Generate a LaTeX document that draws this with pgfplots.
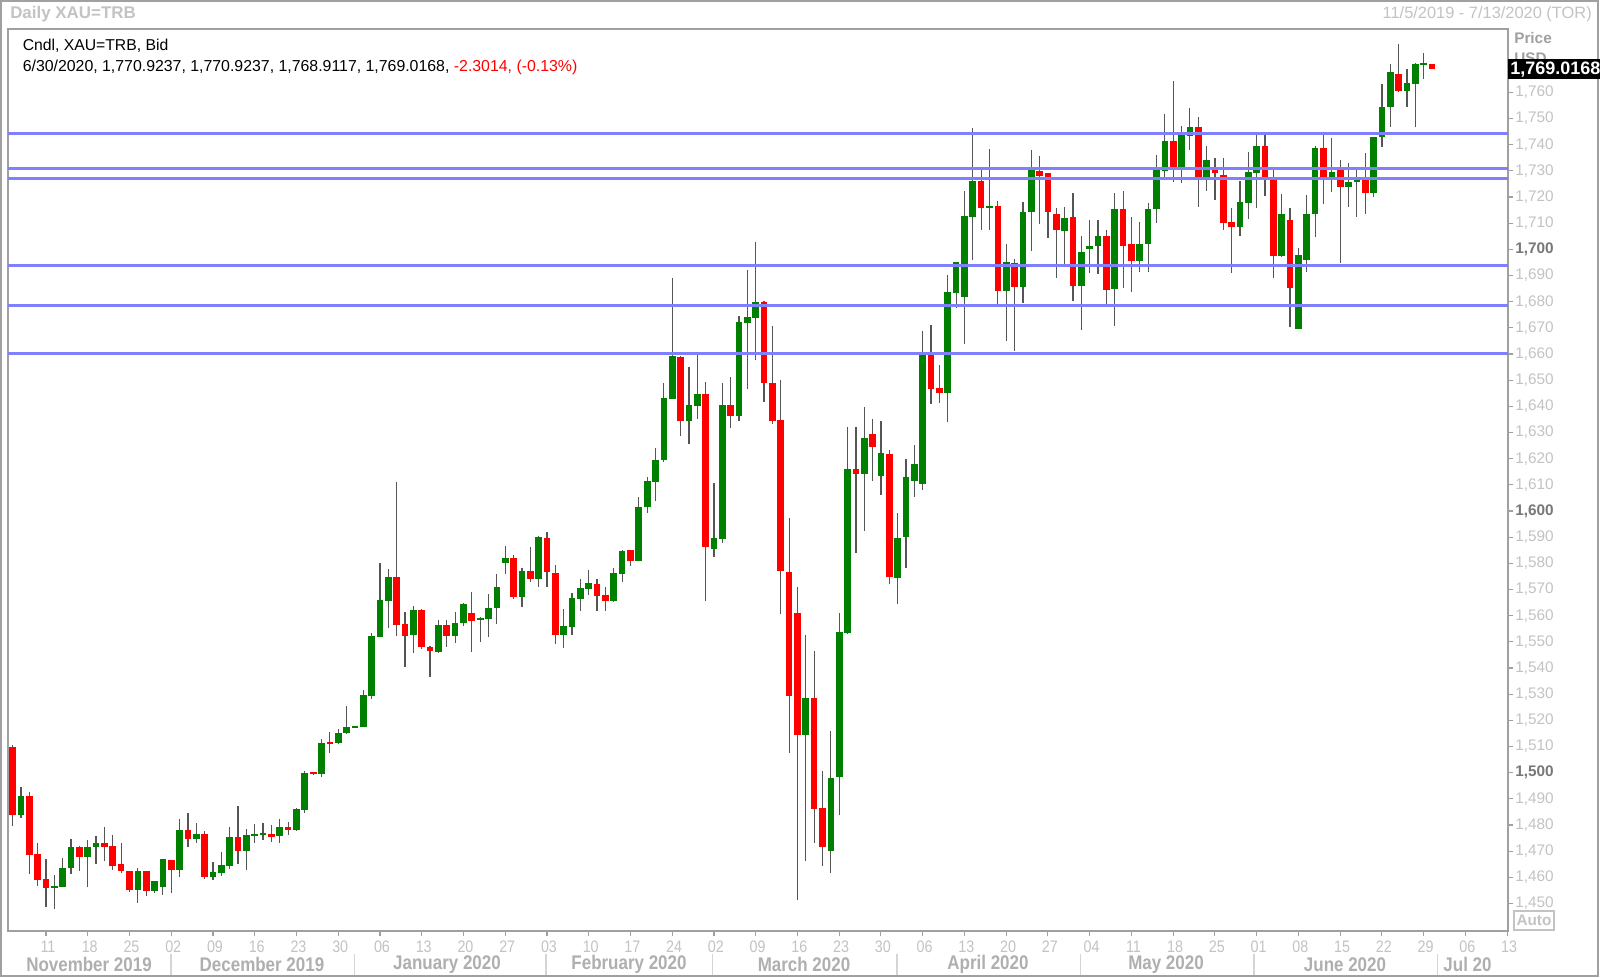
\documentclass[border=0pt]{standalone}
\usepackage{fontspec}
\setmainfont{Liberation Sans}
\newfontfamily\narrowfont[FakeStretch=0.86]{Liberation Sans}
\usepackage{pgfplots}
\usepackage{pgfplotstable}
\pgfplotsset{compat=1.18}

\definecolor{upgreen}{RGB}{0,128,0}
\definecolor{downred}{RGB}{255,0,0}
\definecolor{wick}{RGB}{85,85,85}
\definecolor{srline}{RGB}{128,128,255}
\definecolor{lightlab}{RGB}{195,195,195}
\definecolor{boldgray}{RGB}{120,120,120}
\definecolor{framegray}{RGB}{160,160,160}

% daily candles, i = trading day (0 = Mon 11 Nov 2019)
\pgfplotstableread{
i o h l c
-4 1509.9 1510.6 1479.6 1483.8
-3 1483.8 1494.4 1482.8 1491.1
-2 1491.1 1492.6 1461.3 1468.6
-1 1468.9 1473.3 1456.7 1459.0
0 1459.3 1467.0 1448.6 1455.8
1 1456.1 1460.9 1447.8 1456.8
2 1456.5 1467.5 1456.4 1463.7
3 1463.5 1474.7 1461.3 1471.5
4 1471.7 1471.8 1462.6 1467.9
5 1467.9 1474.3 1456.4 1471.7
6 1471.5 1475.8 1465.1 1473.0
7 1473.0 1479.1 1466.4 1471.7
8 1472.1 1476.2 1462.8 1464.5
9 1465.0 1473.3 1461.8 1462.4
10 1462.4 1462.4 1454.5 1455.2
11 1455.2 1463.5 1450.3 1462.4
12 1462.4 1462.4 1452.9 1454.8
13 1454.8 1458.6 1454.2 1458.6
14 1456.5 1467.0 1453.3 1467.0
15 1466.6 1466.6 1454.2 1462.8
16 1462.8 1482.3 1460.3 1478.1
17 1478.1 1484.5 1471.7 1474.5
18 1474.5 1480.9 1473.3 1476.5
19 1476.5 1477.7 1459.2 1460.3
20 1460.0 1466.0 1459.0 1462.2
21 1461.8 1469.6 1460.5 1464.7
22 1464.3 1479.1 1463.1 1475.3
23 1475.3 1487.4 1465.1 1470.1
24 1470.1 1478.4 1462.8 1476.2
25 1476.0 1480.3 1473.3 1476.6
26 1476.3 1480.9 1474.3 1476.9
27 1476.5 1480.0 1473.5 1475.6
28 1475.8 1482.2 1473.0 1479.4
29 1479.4 1481.3 1476.2 1478.1
30 1478.1 1486.4 1477.9 1486.0
31 1485.8 1500.8 1484.7 1499.8
32 1500.1 1500.3 1499.3 1499.5
33 1499.5 1512.8 1498.2 1511.5
34 1511.6 1515.7 1507.4 1511.0
35 1511.2 1516.6 1511.0 1515.3
36 1515.1 1525.6 1514.8 1517.6
37 1517.3 1517.9 1517.2 1517.9
38 1517.3 1531.6 1517.3 1529.7
39 1529.3 1553.5 1528.0 1552.2
40 1552.0 1580.3 1552.0 1566.0
41 1565.7 1577.7 1555.2 1574.7
42 1574.7 1611.2 1552.2 1556.4
43 1556.8 1561.5 1540.3 1552.4
44 1552.6 1563.7 1545.6 1562.2
45 1562.2 1562.4 1547.2 1547.9
46 1548.2 1548.4 1536.5 1546.5
47 1546.3 1558.3 1545.9 1556.4
48 1556.4 1558.3 1548.2 1552.2
49 1552.2 1561.3 1549.4 1557.3
50 1557.1 1564.7 1556.2 1564.5
51 1560.9 1568.9 1546.2 1558.1
52 1558.3 1559.6 1550.1 1559.2
53 1558.7 1568.3 1552.0 1563.1
54 1562.8 1575.9 1556.7 1571.1
55 1580.3 1586.7 1575.9 1581.9
56 1581.9 1583.2 1566.4 1567.0
57 1567.0 1578.1 1563.2 1577.1
58 1577.1 1586.1 1572.7 1574.0
59 1574.0 1590.4 1570.8 1589.9
60 1589.6 1591.8 1571.1 1576.8
61 1576.4 1579.4 1549.0 1552.6
62 1552.6 1562.4 1547.5 1556.2
63 1555.8 1568.5 1552.6 1566.6
64 1566.4 1574.0 1561.9 1570.4
65 1570.1 1577.5 1567.9 1572.6
66 1572.1 1573.9 1561.9 1567.5
67 1567.9 1570.8 1561.9 1565.7
68 1565.7 1578.1 1565.4 1576.2
69 1575.9 1585.1 1573.0 1584.7
70 1585.1 1585.1 1579.0 1580.9
71 1581.0 1605.5 1581.0 1601.7
72 1601.4 1613.1 1599.4 1611.5
73 1611.2 1623.9 1604.0 1619.5
74 1619.5 1649.0 1618.9 1643.1
75 1642.8 1688.9 1642.8 1659.2
76 1659.0 1659.2 1628.7 1634.5
77 1634.5 1654.9 1625.5 1640.5
78 1640.3 1659.6 1635.2 1644.7
79 1644.7 1649.2 1565.7 1586.1
80 1585.5 1610.8 1582.6 1589.6
81 1589.3 1649.0 1587.6 1640.5
82 1640.5 1651.3 1631.6 1636.4
83 1636.4 1674.5 1634.5 1672.4
84 1672.0 1692.1 1646.5 1674.3
85 1673.9 1702.9 1657.7 1680.0
86 1680.0 1680.4 1641.8 1649.0
87 1649.0 1670.7 1633.2 1634.5
88 1634.6 1650.1 1560.8 1577.1
89 1576.7 1597.5 1507.7 1529.2
90 1561.1 1571.0 1451.5 1514.3
91 1514.3 1552.7 1466.2 1528.6
92 1528.6 1546.4 1473.2 1486.1
93 1486.4 1500.6 1464.4 1471.6
94 1469.9 1516.0 1461.8 1498.0
95 1498.3 1561.1 1484.0 1553.6
96 1553.2 1632.0 1552.9 1616.2
97 1616.2 1632.0 1583.9 1614.2
98 1614.2 1639.9 1592.5 1628.0
99 1629.4 1635.3 1611.3 1624.4
100 1613.3 1634.4 1606.0 1622.1
101 1621.7 1623.4 1572.0 1574.9
102 1574.4 1599.1 1564.4 1589.8
103 1590.1 1619.9 1578.4 1612.9
104 1611.6 1625.4 1605.4 1617.8
105 1610.3 1668.8 1608.0 1659.6
106 1659.6 1671.1 1640.8 1646.6
107 1646.9 1655.8 1641.4 1645.2
108 1645.2 1690.2 1634.1 1683.6
109 1683.4 1695.0 1677.4 1695.0
110 1681.9 1722.3 1663.7 1712.7
111 1712.5 1746.2 1695.9 1726.1
112 1726.1 1730.3 1707.4 1715.7
113 1715.7 1738.2 1707.4 1716.5
114 1716.5 1718.6 1679.3 1684.1
115 1684.1 1702.0 1665.1 1695.0
116 1694.6 1696.5 1661.1 1685.5
117 1685.5 1718.2 1679.3 1714.1
118 1714.1 1737.9 1699.4 1730.3
119 1729.9 1735.6 1709.5 1728.1
120 1729.0 1729.0 1704.2 1714.4
121 1713.4 1715.7 1689.2 1707.4
122 1707.0 1716.3 1694.4 1712.1
123 1712.2 1721.4 1680.4 1686.0
124 1686.0 1705.1 1669.2 1699.1
125 1700.1 1711.2 1690.8 1701.2
126 1701.2 1711.2 1690.6 1705.2
127 1705.1 1707.4 1679.3 1684.4
128 1684.7 1721.4 1670.7 1715.3
129 1715.3 1722.3 1685.3 1701.3
130 1702.0 1712.5 1683.6 1695.7
131 1695.7 1710.6 1691.2 1702.0
132 1702.0 1717.6 1691.2 1715.4
133 1715.4 1736.0 1709.9 1730.3
134 1729.9 1751.6 1727.8 1741.4
135 1741.5 1764.3 1725.8 1731.6
136 1731.6 1747.2 1725.5 1743.7
137 1743.3 1753.9 1738.0 1746.9
138 1746.9 1750.4 1716.3 1727.8
139 1727.8 1739.6 1722.4 1734.1
140 1730.3 1735.1 1718.8 1729.3
141 1728.6 1735.1 1707.4 1710.2
142 1710.6 1715.7 1690.8 1708.7
143 1708.7 1726.2 1705.1 1718.0
144 1717.8 1737.1 1711.6 1729.7
145 1729.0 1743.7 1715.7 1739.6
146 1739.6 1743.7 1720.5 1727.8
147 1727.8 1730.3 1688.9 1697.4
148 1697.4 1721.0 1697.2 1713.7
149 1711.2 1715.9 1670.4 1685.1
150 1669.5 1700.6 1669.5 1697.8
151 1695.9 1720.7 1691.5 1713.7
152 1713.5 1739.6 1704.8 1738.6
153 1738.6 1743.7 1717.2 1727.8
154 1727.8 1742.7 1721.8 1729.7
155 1730.3 1734.1 1694.6 1723.9
156 1723.9 1732.9 1716.3 1725.8
157 1725.8 1730.3 1712.5 1726.4
158 1726.5 1736.7 1713.4 1721.4
159 1721.4 1743.0 1720.1 1743.0
160 1743.0 1763.0 1739.2 1754.5
161 1754.2 1770.7 1746.6 1767.6
162 1767.2 1778.5 1760.2 1760.5
163 1760.6 1768.8 1754.5 1763.4
164 1763.0 1771.3 1746.9 1770.7
165 1770.7 1775.1 1765.1 1771.2
166 1770.9237 1770.9237 1768.9117 1769.0168
}\gold

\begin{document}
\begin{tikzpicture}
% page = 1600 x 978 screen pixels, 1 px = 0.75pt, plot area corner at (0,0)
\useasboundingbox (-6pt,-35.25pt) rectangle (1194pt,698.25pt);
\fill[white] (-6pt,-35.25pt) rectangle (1194pt,698.25pt);

\begin{axis}[
  at={(0pt,0pt)}, anchor=south west,
  scale only axis, width=1125pt, height=676.5pt,
  xmin=-4.55, xmax=175.1, ymin=1439.5, ymax=1784.2,
  axis line style={draw=framegray, line width=1.2pt},
  tick align=outside, major tick length=4pt,
  xtick pos=bottom, ytick pos=right, yticklabel pos=right,
  tick style={draw=framegray, line width=0.8pt},
  xtick={0,5,...,175},
  xticklabels={11,18,25,02,09,16,23,30,06,13,20,27,03,10,17,24,02,09,16,23,30,06,13,20,27,04,11,18,25,01,08,15,22,29,06,13},
  xticklabel style={font=\narrowfont\fontsize{12.5}{14}\selectfont, text=lightlab, xshift=1.5pt},
  ytick={1450,1460,1470,1480,1490,1500,1510,1520,1530,1540,1550,1560,1570,1580,1590,1600,1610,1620,1630,1640,1650,1660,1670,1680,1690,1700,1710,1720,1730,1740,1750,1760},
  yticklabels={{1,450},{1,460},{1,470},{1,480},{1,490},{\bfseries\color{boldgray}1,500},{1,510},{1,520},{1,530},{1,540},{1,550},{1,560},{1,570},{1,580},{1,590},{\bfseries\color{boldgray}1,600},{1,610},{1,620},{1,630},{1,640},{1,650},{1,660},{1,670},{1,680},{1,690},{\bfseries\color{boldgray}1,700},{1,710},{1,720},{1,730},{1,740},{1,750},{1,760}},
  yticklabel style={font=\fontsize{11.5}{13}\selectfont, text=lightlab, xshift=-2pt},
  candle/.style={draw=none, mark=none, mark options={draw=none, fill=none}, forget plot},
]
% wicks
\addplot[candle,
  error bars/.cd, y dir=both, y explicit, error mark=none,
  error bar style={line width=0.9pt, draw=wick}]
  table[x=i, y expr={(\thisrow{h}+\thisrow{l})/2}, y error expr={(\thisrow{h}-\thisrow{l})/2}] {\gold};
% up bodies
\addplot[candle,
  restrict expr to domain={\thisrow{c}-\thisrow{o}}{0:1000},
  error bars/.cd, y dir=both, y explicit, error mark=none,
  error bar style={line width=5pt, draw=upgreen}]
  table[x=i, y expr={(\thisrow{o}+\thisrow{c})/2}, y error expr={abs(\thisrow{c}-\thisrow{o})/2}] {\gold};
% down bodies
\addplot[candle,
  restrict expr to domain={\thisrow{c}-\thisrow{o}}{-1000:0},
  error bars/.cd, y dir=both, y explicit, error mark=none,
  error bar style={line width=5pt, draw=downred}]
  table[x=i, y expr={(\thisrow{o}+\thisrow{c})/2}, y error expr={abs(\thisrow{c}-\thisrow{o})/2}] {\gold};
% support / resistance lines
\addplot[srline, line width=2.3pt, forget plot] coordinates {(-10,1744.4) (200,1744.4)};
\addplot[srline, line width=2.3pt, forget plot] coordinates {(-10,1731.0) (200,1731.0)};
\addplot[srline, line width=2.3pt, forget plot] coordinates {(-10,1726.9) (200,1726.9)};
\addplot[srline, line width=2.3pt, forget plot] coordinates {(-10,1693.9) (200,1693.9)};
\addplot[srline, line width=2.3pt, forget plot] coordinates {(-10,1678.5) (200,1678.5)};
\addplot[srline, line width=2.3pt, forget plot] coordinates {(-10,1660.3) (200,1660.3)};
\end{axis}

\begin{scope}[x=0.75pt,y=-0.75pt,shift={(-6pt,698.25pt)}]
% outer frame
\draw[framegray, line width=1.2pt] (1,1) rectangle (1598,976);
% header
\node[anchor=west, inner sep=0, text=lightlab, font=\bfseries\fontsize{12.7}{14}\selectfont] at (10,14.5) {Daily XAU=TRB};
\node[anchor=east, inner sep=0, text=lightlab, font=\fontsize{12.3}{14}\selectfont] at (1592,14.5) {11/5/2019 - 7/13/2020 (TOR)};
% legend text inside plot
\node[anchor=west, inner sep=0, font=\fontsize{11.8}{13}\selectfont] at (22.5,46) {Cndl, XAU=TRB, Bid};
\node[anchor=west, inner sep=0, font=\fontsize{11.9}{13}\selectfont] at (22.5,67.5) {6/30/2020, 1,770.9237, 1,770.9237, 1,768.9117, 1,769.0168, \textcolor{downred}{-2.3014, (-0.13\%)}};
% right axis header
\node[anchor=west, inner sep=0, text=framegray, font=\bfseries\fontsize{11.5}{13}\selectfont] at (1514,38) {Price};
\begin{scope}
\clip (1510,45) rectangle (1600,59.3);
\node[anchor=west, inner sep=0, text=framegray, font=\bfseries\fontsize{11.5}{13}\selectfont] at (1514,58) {USD};
\end{scope}
\fill[black] (1508,59.3) rectangle (1600,79.3);
\begin{scope}
\clip (1508,59.3) rectangle (1600,79.3);
\node[anchor=west, inner sep=0, text=white, font=\bfseries\fontsize{13.5}{15}\selectfont] at (1510,69.8) {1,769.0168};
\end{scope}
% Auto box
\draw[lightlab, line width=0.8pt] (1514,911) rectangle (1554,930);
\node[inner sep=0, text=lightlab, font=\bfseries\fontsize{11.5}{13}\selectfont] at (1534,920.5) {Auto};
% month separators and names
\foreach \xx in {171,354.6,546,712.8,897,1080.6,1254,1437.8}
  \draw[lightlab!70, line width=0.8pt] (\xx,954) -- (\xx,975);
\foreach \xx/\mm in {89/November 2019,262/December 2019,447/January 2020,629/February 2020,804/March 2020,988/April 2020,1166/May 2020,1345/June 2020,1467.5/Jul 20}
  \node[inner sep=0, text=lightlab!90!black, font=\narrowfont\bfseries\fontsize{14.8}{16}\selectfont] at (\xx,964.5) {\mm};
\end{scope}
\end{tikzpicture}
\end{document}
